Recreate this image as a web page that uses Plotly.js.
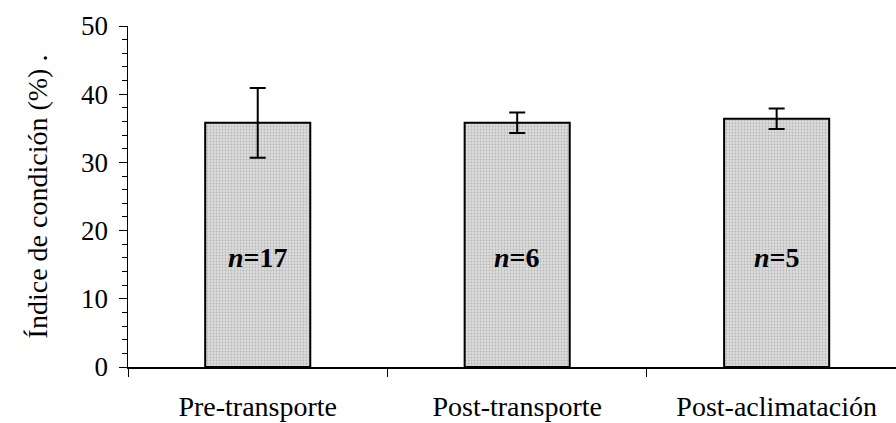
<!DOCTYPE html>
<html>
<head>
<meta charset="utf-8">
<script src="https://cdn.plot.ly/plotly-3.0.1.min.js"></script>
<style>html,body{margin:0;padding:0;background:#fff;}</style>
</head>
<body>
<div id="chart" style="width:896px;height:423px;"></div>
<script>
const categories = ["Pre-transporte", "Post-transporte", "Post-aclimatación"];
const values = [35.8, 35.8, 36.4];
const errors = [5.1, 1.5, 1.5];
const nLabels = ["17", "6", "5"];
const yTitle = "Índice de condición (%) .";

const serif = "Liberation Serif, Times New Roman, serif";

const trace = {
  type: "bar",
  x: categories,
  y: values,
  width: 0.405,
  marker: {
    color: "#d4d4d4",
    line: {color: "#000", width: 2},
    pattern: {shape: ".", fgcolor: "#b8b8b8", bgcolor: "#dcdcdc", size: 3, solidity: 0.3}
  },
  error_y: {type: "data", array: errors, visible: true, color: "#000", thickness: 2, width: 8},
  hoverinfo: "skip"
};

const annotations = categories.map((c, i) => ({
  x: c, y: 16, xref: "x", yref: "y",
  text: "<b><i>n</i>=" + nLabels[i] + "</b>",
  showarrow: false,
  font: {family: serif, size: 28, color: "#000"},
  xanchor: "center", yanchor: "middle"
}));

const layout = {
  width: 896, height: 423,
  margin: {l: 128, r: 0, t: 26, b: 56},
  paper_bgcolor: "#fff", plot_bgcolor: "#fff",
  showlegend: false,
  font: {family: serif, color: "#000"},
  xaxis: {
    type: "category",
    range: [-0.5, 2.46],
    showline: true, linecolor: "#000", linewidth: 1.5,
    ticks: "outside", tickson: "boundaries", ticklen: 8, tickcolor: "#000", tickwidth: 1,
    showgrid: false, zeroline: false,
    ticklabelstandoff: 14,
    tickfont: {family: serif, size: 28, color: "#000"}
  },
  yaxis: {
    range: [0, 50], dtick: 10, tick0: 0,
    showline: true, linecolor: "#000", linewidth: 1.5,
    ticks: "outside", ticklen: 8, tickcolor: "#000", tickwidth: 1,
    minor: {dtick: 2, ticks: "outside", ticklen: 5, tickcolor: "#000", tickwidth: 1, showgrid: false},
    showgrid: false, zeroline: false,
    ticklabelstandoff: 5,
    tickfont: {family: serif, size: 27, color: "#000"},
    title: {text: yTitle, font: {family: serif, size: 28, color: "#000"}, standoff: 25}
  },
  annotations: annotations
};

Plotly.newPlot("chart", [trace], layout, {staticPlot: true, displayModeBar: false});
</script>
</body>
</html>
